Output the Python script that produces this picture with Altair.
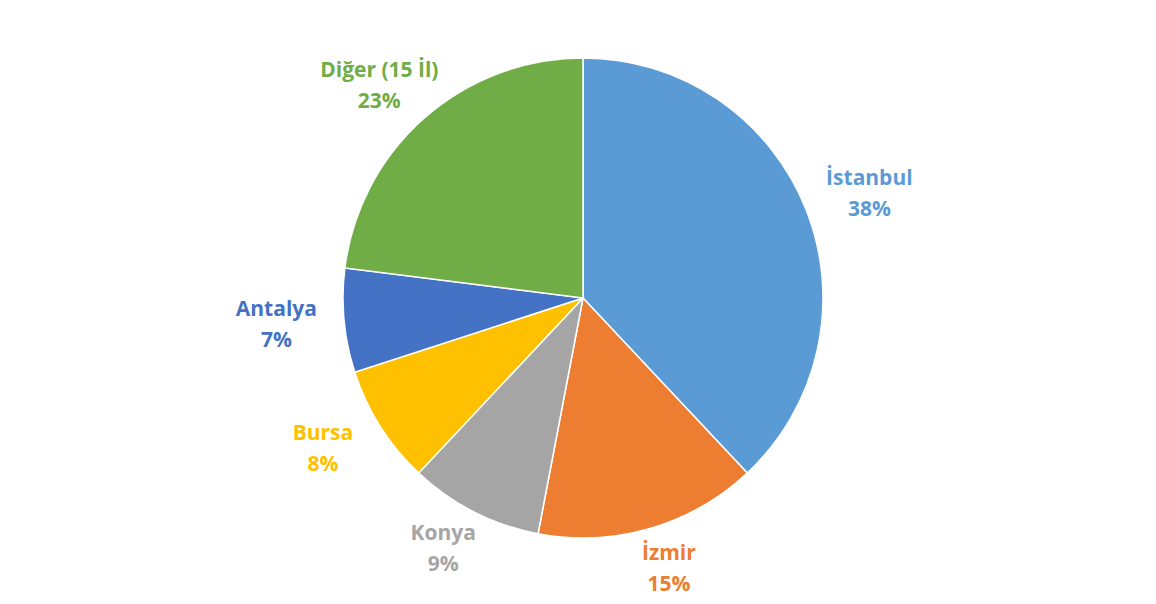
import altair as alt
import pandas as pd

cities = ["İstanbul", "İzmir", "Konya", "Bursa", "Antalya", "Diğer (15 İl)"]
shares = [38, 15, 9, 8, 7, 23]
colors = ["#5B9BD5", "#ED7D31", "#A5A5A5", "#FFC000", "#4472C4", "#70AD47"]

df = pd.DataFrame({
    "city": cities,
    "share": shares,
    "idx": list(range(len(cities))),
    "label": [f"{c}\n{s}%" for c, s in zip(cities, shares)],
})

CX, CY, R = 575, 290, 240
LRX, LRY = 308, 282

color = alt.Color("city:N", scale=alt.Scale(domain=cities, range=colors), legend=None)

pie = alt.Chart(df).mark_arc(outerRadius=R, stroke="white", strokeWidth=1.5).encode(
    theta=alt.Theta("share:Q", stack=True),
    order=alt.Order("idx:Q"),
    color=color,
    x=alt.value(CX),
    y=alt.value(CY),
)

labels = alt.Chart(df).transform_window(
    cum="sum(share)", sort=[alt.SortField("idx")], frame=[None, 0]
).transform_joinaggregate(
    total="sum(share)"
).transform_calculate(
    mid="(datum.cum - datum.share / 2) / datum.total * 2 * PI",
).transform_calculate(
    lx=f"{CX} + {LRX} * sin(datum.mid)",
    ly=f"{CY} - {LRY} * cos(datum.mid)",
).mark_text(
    fontSize=21, fontWeight="bold", font="Open Sans",
    lineBreak="\n", lineHeight=31, align="center", baseline="middle", dy=-15,
).encode(
    x=alt.X("lx:Q", scale=None, axis=None),
    y=alt.Y("ly:Q", scale=None, axis=None),
    text="label:N",
    color=color,
)

chart = (pie + labels).properties(
    width=1140, height=588,
    autosize=alt.AutoSizeParams(type="none"),
    padding=0,
).configure_view(stroke=None)

chart.save("out.html", embed_options={"renderer": "svg", "actions": False})
